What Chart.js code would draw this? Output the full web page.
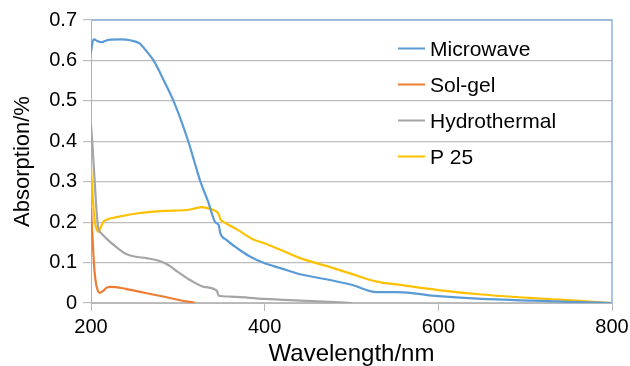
<!DOCTYPE html>
<html>
<head>
<meta charset="utf-8">
<script src="https://cdn.jsdelivr.net/npm/chart.js@4/dist/chart.umd.min.js"></script>
<style>
  body { margin: 0; background: #fff; }
</style>
</head>
<body>
<canvas id="grafico" width="630" height="366"></canvas>
<script>
// series names
const nombres = ["Microwave", "Sol-gel", "Hydrothermal", "P 25"];
const colores = ["#5B9BD5", "#ED7D31", "#A5A5A5", "#FFC000"];

// Microwave
const microwaveX = [200, 202, 204, 207, 212, 220, 235, 245, 256, 263, 272, 284, 295, 304, 312, 319, 326, 335, 343, 347, 349, 356, 368, 383, 398, 420, 441, 475, 500, 529, 552, 600, 650, 709, 750, 800];
const microwaveY = [0.62, 0.648, 0.652, 0.648, 0.645, 0.651, 0.652, 0.65, 0.642, 0.625, 0.6, 0.55, 0.5, 0.45, 0.4, 0.35, 0.3, 0.25, 0.2, 0.193, 0.172, 0.156, 0.136, 0.115, 0.1, 0.085, 0.071, 0.057, 0.045, 0.027, 0.027, 0.017, 0.01, 0.006, 0.003, 0];

// Sol-gel
const solgelX = [200, 202, 204, 206, 208, 210, 214, 218, 223, 240, 260, 283, 300, 320];
const solgelY = [0.235, 0.15, 0.08, 0.045, 0.03, 0.025, 0.03, 0.038, 0.04, 0.035, 0.026, 0.016, 0.008, 0];

// Hydrothermal
const hidroX = [200, 202, 204, 206, 208, 210, 212, 220, 230, 240, 250, 264, 279, 289, 300, 314, 330, 345, 347, 360, 368, 400, 441, 475, 500];
const hidroY = [0.44, 0.38, 0.31, 0.24, 0.19, 0.177, 0.172, 0.155, 0.137, 0.122, 0.115, 0.111, 0.104, 0.094, 0.077, 0.057, 0.04, 0.03, 0.018, 0.016, 0.015, 0.01, 0.006, 0.003, 0];

// P 25
const p25X = [200, 202, 204.5, 206.5, 208.5, 211, 214, 218, 231, 254, 285, 310, 320, 327, 335, 341, 347, 349, 355, 368, 387, 398, 420, 441, 475, 500, 529, 556, 600, 650, 709, 750, 800];
const p25Y = [0.337, 0.26, 0.2, 0.182, 0.176, 0.186, 0.2, 0.206, 0.213, 0.222, 0.228, 0.23, 0.234, 0.237, 0.234, 0.23, 0.22, 0.207, 0.198, 0.182, 0.157, 0.149, 0.13, 0.111, 0.089, 0.072, 0.053, 0.045, 0.032, 0.021, 0.012, 0.007, 0];

const seriesX = [microwaveX, solgelX, hidroX, p25X];
const seriesY = [microwaveY, solgelY, hidroY, p25Y];

const fuente = "'Liberation Sans', Arial, sans-serif";

// blue frame on top and right, like the original
const marco = {
  id: "marco",
  afterDatasetsDraw(chart) {
    const { ctx, chartArea: a } = chart;
    ctx.save();
    ctx.strokeStyle = "#8DB4E2";
    ctx.lineWidth = 1.5;
    ctx.beginPath();
    ctx.moveTo(a.left, a.top);
    ctx.lineTo(a.right, a.top);
    ctx.lineTo(a.right, a.bottom);
    ctx.stroke();
    ctx.restore();
  }
};

// legend inside the plot
const leyenda = {
  id: "leyenda",
  afterDraw(chart) {
    const ctx = chart.ctx;
    ctx.save();
    ctx.font = "21px " + fuente;
    ctx.textBaseline = "middle";
    ctx.fillStyle = "#000";
    chart.data.datasets.forEach((ds, i) => {
      const y = 48.5 + i * 36;
      ctx.strokeStyle = ds.borderColor;
      ctx.lineWidth = 2;
      ctx.beginPath();
      ctx.moveTo(398, y);
      ctx.lineTo(425, y);
      ctx.stroke();
      ctx.fillText(ds.label, 430, y + 2);
    });
    ctx.restore();
  }
};

new Chart(document.getElementById("grafico"), {
  type: "line",
  data: {
    datasets: nombres.map((n, i) => ({
      label: n,
      data: seriesX[i].map((x, j) => ({ x: x, y: seriesY[i][j] })),
      borderColor: colores[i],
      backgroundColor: colores[i],
      borderWidth: 2.2,
      pointRadius: 0,
      cubicInterpolationMode: "monotone",
      fill: false
    }))
  },
  options: {
    responsive: false,
    animation: false,
    layout: { padding: { top: 20, right: 18 } },
    plugins: {
      legend: { display: false },
      tooltip: { enabled: false }
    },
    scales: {
      x: {
        type: "linear",
        min: 200,
        max: 800,
        ticks: { stepSize: 200, color: "#000", font: { size: 20, family: fuente }, padding: 4, maxRotation: 0 },
        grid: { drawOnChartArea: false, drawTicks: true, tickLength: 8, color: "#B8B8B8" },
        border: { color: "#B8B8B8" },
        title: { display: true, text: "Wavelength/nm", color: "#000", font: { size: 24, family: fuente, lineHeight: 1 }, padding: 0 },
        afterFit(scale) {
          scale.height = 63;
          scale.paddingLeft = 0;
          scale.paddingRight = 0;
        }
      },
      y: {
        min: 0,
        max: 0.7,
        ticks: { stepSize: 0.1, color: "#000", font: { size: 20, family: fuente }, padding: 6 },
        grid: { color: "#BDBDBD", lineWidth: 1.2, tickLength: 8 },
        border: { color: "#B0B0B0" },
        title: { display: true, text: "Absorption/%", color: "#000", font: { size: 22, family: fuente, lineHeight: 1.2 }, padding: { top: 10, bottom: 0 } },
        afterFit(scale) {
          scale.width = 91;
          scale.paddingTop = 0;
          scale.paddingBottom = 0;
        }
      }
    }
  },
  plugins: [marco, leyenda]
});
</script>
</body>
</html>
